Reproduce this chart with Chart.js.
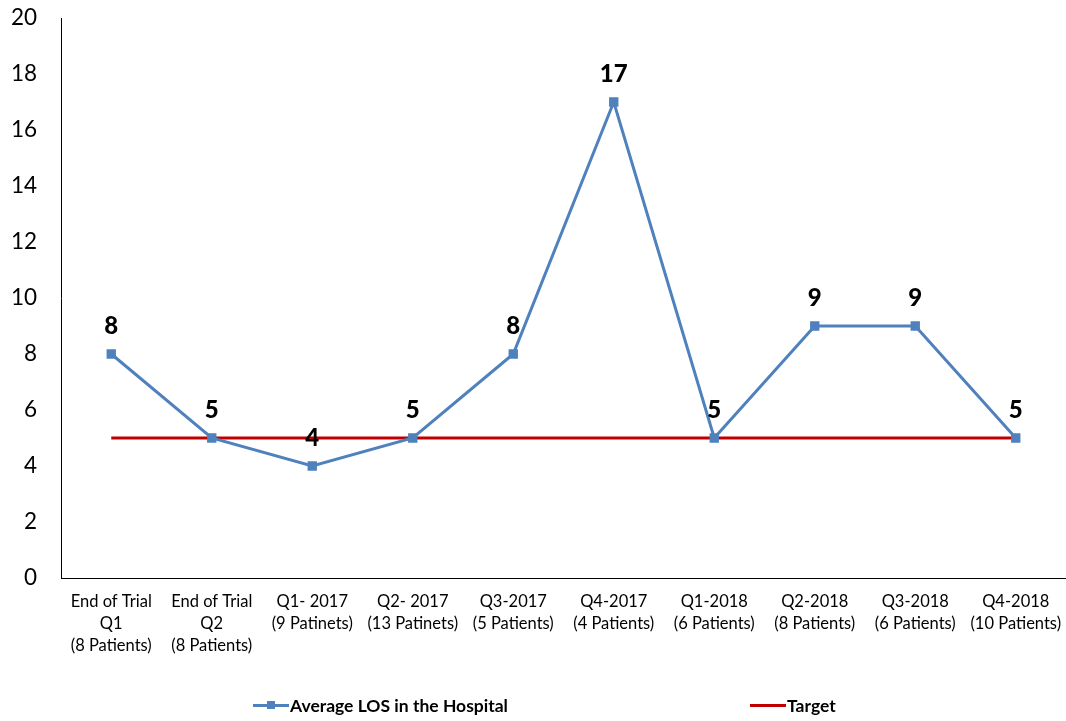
<!DOCTYPE html>
<html>
<head>
<meta charset="utf-8">
<script src="https://cdn.jsdelivr.net/npm/chart.js@4"></script>
<style>
  html, body { margin: 0; padding: 0; background: #fff; }
  #wrap { position: relative; width: 1066px; height: 721px; }
  #legend { position: absolute; top: 695px; left: 0; width: 1066px; height: 24px;
    font-family: Lato, "Open Sans", sans-serif; font-weight: bold; font-size: 17.5px; color: #000; }
  .item { position: absolute; top: 0; display: flex; align-items: center; }
  .sw { position: relative; width: 36px; height: 3px; margin-right: 1px; }
  .sw i { position: absolute; left: 14px; top: -3px; width: 8px; height: 8px; background: #4F81BD; }
</style>
</head>
<body>
<div id="wrap">
  <canvas id="losChart" width="1066" height="721"></canvas>
  <div id="legend">
    <div class="item" style="left:253px"><span class="sw" style="background:#4F81BD"><i></i></span>Average LOS in the Hospital</div>
    <div class="item" style="left:750px"><span class="sw" style="background:#C00000"></span>Target</div>
  </div>
</div>
<script>
const categories = [
  ["End of Trial", "Q1", "(8 Patients)"],
  ["End of Trial", "Q2", "(8 Patients)"],
  ["Q1- 2017", "(9 Patinets)"],
  ["Q2- 2017", "(13 Patinets)"],
  ["Q3-2017", "(5 Patients)"],
  ["Q4-2017", "(4 Patients)"],
  ["Q1-2018", "(6 Patients)"],
  ["Q2-2018", "(8 Patients)"],
  ["Q3-2018", "(6 Patients)"],
  ["Q4-2018", "(10 Patients)"]
];
const avgLos = [8, 5, 4, 5, 8, 17, 5, 9, 9, 5];
const target = [5, 5, 5, 5, 5, 5, 5, 5, 5, 5];
const yTicks = [0, 2, 4, 6, 8, 10, 12, 14, 16, 18, 20];

// labels over the LOS points
const valueLabels = {
  id: "valueLabels",
  afterDatasetsDraw(chart) {
    const ctx = chart.ctx;
    const meta = chart.getDatasetMeta(0);
    ctx.save();
    ctx.font = "900 24px Lato, 'Open Sans', sans-serif";
    ctx.fillStyle = "#000";
    ctx.textAlign = "center";
    ctx.textBaseline = "middle";
    meta.data.forEach((pt, i) => {
      ctx.fillText(String(avgLos[i]), pt.x, pt.y - 28);
    });
    ctx.restore();
  }
};

const chartCtx = document.getElementById("losChart").getContext("2d");

let losChart = new Chart(chartCtx, {
  type: "line",
  data: {
    labels: categories,
    datasets: [{
      label: "Average LOS in the Hospital",
      data: avgLos,
      borderColor: "#4F81BD",
      backgroundColor: "#4F81BD",
      borderWidth: 3,
      pointStyle: "rect",
      pointRadius: 4.5,
      pointHoverRadius: 4.5,
      tension: 0,
      order: 0
    }, {
      label: "Target",
      data: target,
      borderColor: "#C00000",
      borderWidth: 3,
      pointRadius: 0,
      tension: 0,
      order: 1
    }]
  },
  options: {
    responsive: false,
    animation: false,
    layout: { autoPadding: false, padding: { top: 18, right: 0, left: 0, bottom: 0 } },
    plugins: {
      legend: { display: false },
      tooltip: { enabled: false }
    },
    scales: {
      x: {
        offset: true,
        grid: { display: false, offset: true },
        border: { display: true, color: "#000", width: 1 },
        ticks: {
          color: "#000",
          maxRotation: 0,
          autoSkip: false,
          padding: 5,
          font: { family: "Lato, 'Open Sans', sans-serif", size: 16.5, lineHeight: 1.32 }
        },
        afterFit(scale) {
          scale.height = 143;
          scale.paddingLeft = 0;
          scale.paddingRight = 0;
        }
      },
      y: {
        min: 0,
        max: 20,
        grid: { display: false },
        border: { display: true, color: "#000", width: 1 },
        afterBuildTicks(scale) { scale.ticks = yTicks.map(v => ({ value: v })); },
        ticks: {
          color: "#000",
          padding: 16,
          font: { family: "Lato, 'Open Sans', sans-serif", size: 22.5 }
        },
        afterFit(scale) {
          scale.width = 61;
          scale.paddingTop = 0;
          scale.paddingBottom = 0;
        }
      }
    }
  },
  plugins: [valueLabels]
});
</script>
</body>
</html>
